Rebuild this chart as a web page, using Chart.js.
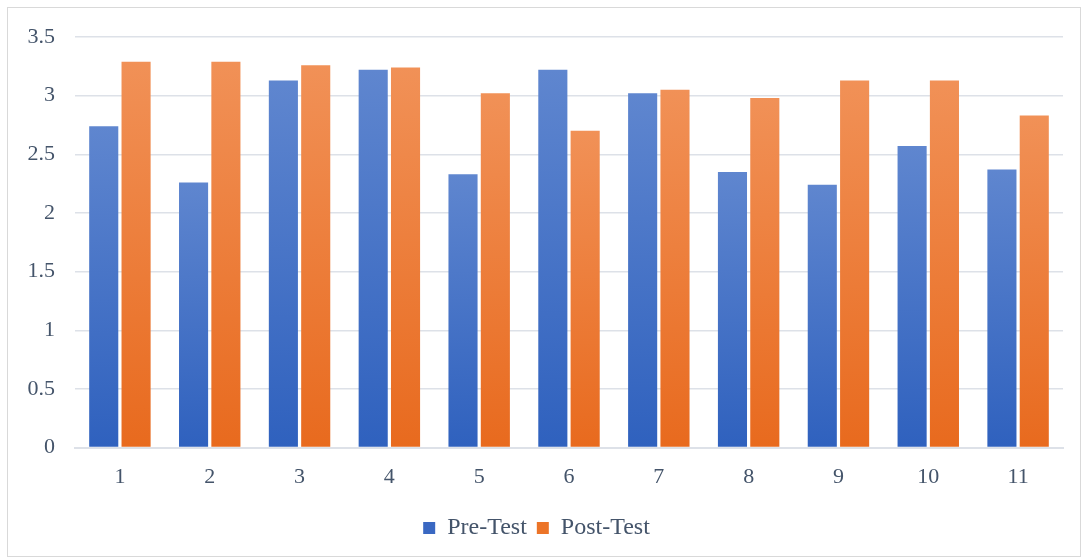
<!DOCTYPE html>
<html>
<head>
<meta charset="utf-8">
<script src="https://cdn.jsdelivr.net/npm/chart.js@4"></script>
<style>
  html, body { margin: 0; padding: 0; background: #fff; }
  #wrap { width: 1083px; height: 558px; position: relative; }
</style>
</head>
<body>
<div id="wrap"><canvas id="chart"></canvas></div>
<script>
const categories = ['1', '2', '3', '4', '5', '6', '7', '8', '9', '10', '11'];
const preTest = [2.74, 2.26, 3.13, 3.22, 2.33, 3.22, 3.02, 2.35, 2.24, 2.57, 2.37];
const postTest = [3.29, 3.29, 3.26, 3.24, 3.02, 2.70, 3.05, 2.98, 3.13, 3.13, 2.83];

const textColor = '#44546a';
const gridColor = '#dde1e8';

// per-bar vertical gradient, lighter at the top like the office chart
function barGradient(top, bottom) {
    return function(ctx) {
        const chart = ctx.chart;
        const y = chart.scales && chart.scales.y;
        if (!chart.chartArea || !y || ctx.parsed === undefined) return bottom;
        const yTop = y.getPixelForValue(ctx.parsed.y);
        const yBot = y.getPixelForValue(0);
        const g = chart.ctx.createLinearGradient(0, yTop, 0, yBot);
        g.addColorStop(0, top);
        g.addColorStop(1, bottom);
        return g;
    };
}

const frame = {
    id: 'frame',
    beforeDraw(chart) {
        const c = chart.ctx;
        c.save();
        c.strokeStyle = '#d9d9d9';
        c.lineWidth = 1;
        c.strokeRect(7.5, 7.5, chart.width - 10, chart.height - 9);
        c.restore();
    }
};

const ctx = document.getElementById('chart').getContext('2d');
window.myChart = new Chart(ctx, {
    type: 'bar',
    data: {
        labels: categories,
        datasets: [{
            label: 'Pre-Test',
            data: preTest,
            backgroundColor: barGradient('#5f86cf', '#2f61be'),
            legendColor: '#3a68c2'
        }, {
            label: 'Post-Test',
            data: postTest,
            backgroundColor: barGradient('#f19157', '#e86a1e'),
            legendColor: '#ec7428'
        }]
    },
    options: {
        responsive: true,
        maintainAspectRatio: false,
        animation: false,
        layout: { padding: { left: 10, right: 20, top: 37, bottom: 8 } },
        datasets: { bar: { categoryPercentage: 0.72, barPercentage: 0.9 } },
        scales: {
            x: {
                grid: { display: false, drawTicks: false },
                border: { display: true, color: gridColor, width: 2 },
                ticks: { color: textColor, font: { family: 'Liberation Serif', size: 22 }, padding: 16 }
            },
            y: {
                min: 0, max: 3.5,
                afterFit(scale) { scale.width = 65; },
                grid: { color: gridColor, lineWidth: 1.5, drawTicks: false },
                border: { display: false },
                ticks: {
                    stepSize: 0.5, color: textColor, padding: 20,
                    font: { family: 'Liberation Serif', size: 22 },
                    callback: v => String(v)
                }
            }
        },
        plugins: {
            legend: {
                position: 'bottom',
                labels: {
                    color: textColor,
                    font: { family: 'Liberation Serif', size: 24 },
                    boxWidth: 12, boxHeight: 12,
                    padding: 10,
                    generateLabels(chart) {
                        return chart.data.datasets.map((d, i) => ({
                            text: d.label,
                            fillStyle: d.legendColor,
                            strokeStyle: d.legendColor,
                            lineWidth: 0,
                            datasetIndex: i,
                            hidden: false,
                            fontColor: textColor
                        }));
                    }
                }
            },
            tooltip: { enabled: false }
        }
    },
    plugins: [frame, {
        id: 'legendFit',
        afterInit(chart) {
            // shrink the legend block so the plot sits lower, as in the reference
            const lg = chart.legend;
            const orig = lg.fit.bind(lg);
            lg.fit = function() { orig(); this.height = 44; };
        }
    }]
});
</script>
</body>
</html>
